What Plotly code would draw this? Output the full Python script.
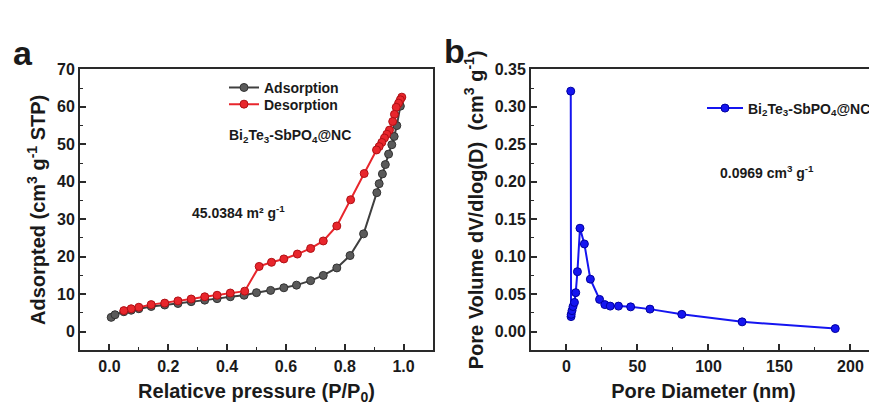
import plotly.graph_objects as go

# ---------------- Panel a data (N2 isotherm) ----------------
ads_p = [0.006, 0.019, 0.049, 0.074, 0.100, 0.142, 0.188, 0.233, 0.278, 0.324, 0.366, 0.411, 0.458,
         0.500, 0.548, 0.593, 0.636, 0.684, 0.727, 0.773, 0.818, 0.864, 0.909, 0.917, 0.928, 0.938,
         0.949, 0.960, 0.968, 0.977, 0.989]
ads_v = [3.8, 4.5, 5.3, 5.7, 6.1, 6.7, 7.1, 7.5, 8.0, 8.4, 8.8, 9.3, 9.7,
         10.4, 11.0, 11.7, 12.4, 13.6, 15.0, 17.0, 20.3, 26.1, 37.1, 39.5, 42.1, 44.6,
         47.4, 49.9, 52.1, 55.0, 60.2]
des_p = [0.994, 0.989, 0.983, 0.975, 0.969, 0.963, 0.952, 0.943, 0.935, 0.926, 0.917, 0.908,
         0.866, 0.820, 0.773, 0.727, 0.684, 0.639, 0.593, 0.551, 0.509, 0.460, 0.411, 0.366,
         0.324, 0.278, 0.233, 0.188, 0.142, 0.100, 0.074, 0.049]
des_v = [62.6, 61.9, 61.0, 59.9, 58.0, 56.1, 53.8, 52.7, 51.7, 50.5, 49.4, 48.5,
         42.2, 35.2, 28.2, 24.2, 22.2, 20.7, 19.4, 18.5, 17.4, 10.8, 10.3, 9.7,
         9.3, 8.7, 8.2, 7.6, 7.2, 6.5, 6.1, 5.6]

# ---------------- Panel b data (pore size distribution) ----------------
pore_d = [3.0, 3.2, 3.3, 3.9, 4.6, 5.6, 6.5, 7.7, 9.5, 12.6, 16.8, 23.3, 27.0, 30.8, 36.6,
          45.2, 58.8, 81.2, 123.7, 189.3]
pore_v = [0.321, 0.020, 0.023, 0.028, 0.0335, 0.039, 0.052, 0.080, 0.138, 0.117, 0.070, 0.043,
          0.036, 0.034, 0.034, 0.033, 0.030, 0.023, 0.013, 0.004]

# ---------------- axes: ranges and ticks ----------------
a_xrange = [-0.1, 1.1]
a_yrange = [-5, 70]
b_xrange = [-25, 218]
b_yrange = [-0.025, 0.35]
a_xticks = [0, 0.2, 0.4, 0.6, 0.8, 1.0]
a_xtext = ["0.0", "0.2", "0.4", "0.6", "0.8", "1.0"]
a_yticks = [0, 10, 20, 30, 40, 50, 60, 70]
b_xticks = [0, 50, 100, 150, 200]
b_yticks = [0, 0.05, 0.1, 0.15, 0.2, 0.25, 0.3, 0.35]
b_ytext = ["0.00", "0.05", "0.10", "0.15", "0.20", "0.25", "0.30", "0.35"]

FONT = "Arial, 'Liberation Sans', sans-serif"
GREY_LINE = "#3f3f3f"
GREY_MK = "#5a5a5a"
RED = "#e8262c"
BLUE = "#1515f0"
INK = "#1a1a1a"
FRAME = "#2a2a2a"

W, H, OFF = 877, 408, 8  # page body margin offset


def fx(px):
    return (px - OFF) / W


def fy(py):
    return 1 - (py - OFF) / H


PX_A = (80, 433)
PX_B = (531, 876)
PY = (62.5, 349)

fig = go.Figure()
fig.add_trace(go.Scatter(x=ads_p, y=ads_v, mode="lines+markers", name="Adsorption",
                         line=dict(color=GREY_LINE, width=2),
                         marker=dict(size=8, color=GREY_MK, line=dict(color="#333333", width=1)),
                         xaxis="x", yaxis="y", legend="legend"))
fig.add_trace(go.Scatter(x=des_p, y=des_v, mode="lines+markers", name="Desorption",
                         line=dict(color=RED, width=2),
                         marker=dict(size=8, color=RED, line=dict(color="#b01015", width=1)),
                         xaxis="x", yaxis="y", legend="legend3"))
fig.add_trace(go.Scatter(x=pore_d, y=pore_v, mode="lines+markers",
                         name="Bi<sub>2</sub>Te<sub>3</sub>-SbPO<sub>4</sub>@NC",
                         line=dict(color=BLUE, width=2),
                         marker=dict(size=8, color=BLUE, line=dict(color="#0000a0", width=1)),
                         xaxis="x2", yaxis="y2", legend="legend2"))

title_font = dict(family=FONT, size=20, color=INK, weight="bold")
dom_y = [fy(PY[1]), fy(PY[0])]
leg_font = dict(family=FONT, size=14, color=INK, weight="bold")

fig.update_layout(
    width=W, height=H,
    margin=dict(l=0, r=0, t=0, b=0),
    paper_bgcolor="white", plot_bgcolor="white",
    font=dict(family=FONT, weight="bold", color=INK),
    xaxis=dict(domain=[fx(PX_A[0]), fx(PX_A[1])], range=a_xrange, anchor="y",
               tickvals=a_xticks, ticktext=a_xtext, minor=dict(dtick=0.1),
               title=dict(text="Relaticve pressure (P/P<sub>0</sub>)", font=title_font, standoff=10)),
    yaxis=dict(domain=dom_y, range=a_yrange, tickvals=a_yticks, anchor="x", minor=dict(dtick=5),
               title=dict(text="Adsorpted (cm<sup>3</sup> g<sup>-1</sup> STP)", font=title_font, standoff=6)),
    xaxis2=dict(domain=[fx(PX_B[0]), fx(PX_B[1])], range=b_xrange, anchor="y2",
                tickvals=b_xticks, minor=dict(dtick=25),
                title=dict(text="Pore Diameter (nm)", font=title_font, standoff=10)),
    yaxis2=dict(domain=dom_y, range=b_yrange, anchor="x2",
                tickvals=b_yticks, ticktext=b_ytext, minor=dict(dtick=0.025),
                title=dict(text="Pore Volume dV/dlog(D)  (cm<sup>3</sup> g<sup>-1</sup>)", font=title_font, standoff=6)),
    legend=dict(x=fx(224), y=fy(65), xanchor="left", yanchor="top",
                bgcolor="rgba(0,0,0,0)", font=leg_font, itemwidth=30),
    legend3=dict(x=fx(224), y=fy(82), xanchor="left", yanchor="top",
                 bgcolor="rgba(0,0,0,0)", font=leg_font, itemwidth=30),
    legend2=dict(x=fx(702), y=fy(86), xanchor="left", yanchor="top",
                 bgcolor="rgba(0,0,0,0)", font=leg_font, itemwidth=36),
    showlegend=True,
)

axis_style = dict(showline=True, linecolor=FRAME, linewidth=2, mirror=True,
                  ticks="inside", ticklen=6, tickwidth=1.5, tickcolor=FRAME,
                  minor_ticks="inside", minor_ticklen=3, minor_tickwidth=1.2, minor_tickcolor=FRAME,
                  minor_showgrid=False,
                  showgrid=False, zeroline=False, fixedrange=True,
                  tickfont=dict(family=FONT, size=16, color=INK, weight="bold"))
fig.update_xaxes(**axis_style)
fig.update_yaxes(**axis_style)

ann_font = dict(family=FONT, size=14, color=INK, weight="bold")
fig.add_annotation(text="Bi<sub>2</sub>Te<sub>3</sub>-SbPO<sub>4</sub>@NC", xref="paper", yref="paper",
                   x=fx(290), y=fy(130), xanchor="center", yanchor="middle", showarrow=False, font=ann_font)
fig.add_annotation(text="45.0384 m² g<sup>-1</sup>", xref="paper", yref="paper",
                   x=fx(238), y=fy(208), xanchor="center", yanchor="middle", showarrow=False, font=ann_font)
fig.add_annotation(text="0.0969 cm<sup>3</sup> g<sup>-1</sup>", xref="paper", yref="paper",
                   x=fx(767), y=fy(167), xanchor="center", yanchor="middle", showarrow=False, font=ann_font)
fig.add_annotation(text="a", xref="paper", yref="paper", x=fx(23), y=fy(46),
                   xanchor="center", yanchor="middle",
                   showarrow=False, font=dict(family=FONT, size=34, color=INK, weight="bold"))
fig.add_annotation(text="b", xref="paper", yref="paper", x=fx(454), y=fy(44),
                   xanchor="center", yanchor="middle",
                   showarrow=False, font=dict(family=FONT, size=34, color=INK, weight="bold"))

fig.write_html("out.html")
